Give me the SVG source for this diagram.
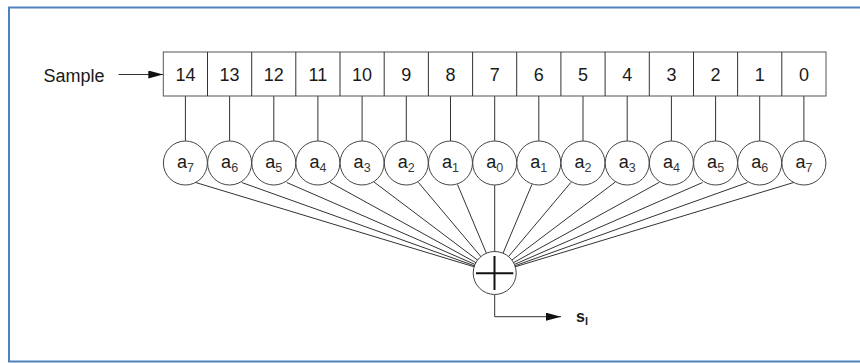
<svg xmlns="http://www.w3.org/2000/svg" width="860" height="363" viewBox="0 0 860 363">
<style>
.t{font-family:"Liberation Sans",Arial,sans-serif;fill:#1a1a1a}
.num{font-size:18px;text-anchor:middle}
.co{font-size:18px;text-anchor:middle}
.sub{font-size:12.5px;fill:#3a3a3a}
.box{fill:#fff;stroke:#555;stroke-width:1}
.cir{fill:#fff;stroke:#444;stroke-width:1}
.ln{stroke:#333;stroke-width:1;fill:none}
</style>
<defs>
<marker id="ah" markerWidth="15" markerHeight="8" refX="15" refY="4" orient="auto" markerUnits="userSpaceOnUse">
<path d="M0,0 L15,4 L0,8 Z" fill="#111"/>
</marker>
</defs>
<rect x="9" y="7.5" width="870" height="354" fill="#fff" stroke="#4f81bd" stroke-width="2"/>

<g id="connectors" class="ln">
<line x1="118.5" y1="74.5" x2="163.3" y2="74.5" marker-end="url(#ah)"/>
<line x1="185.4" y1="96" x2="185.4" y2="141"/>
<line x1="229.6" y1="96" x2="229.6" y2="141"/>
<line x1="273.8" y1="96" x2="273.8" y2="141"/>
<line x1="317.9" y1="96" x2="317.9" y2="141"/>
<line x1="362.1" y1="96" x2="362.1" y2="141"/>
<line x1="406.3" y1="96" x2="406.3" y2="141"/>
<line x1="450.5" y1="96" x2="450.5" y2="141"/>
<line x1="494.7" y1="96" x2="494.7" y2="141"/>
<line x1="538.8" y1="96" x2="538.8" y2="141"/>
<line x1="583.0" y1="96" x2="583.0" y2="141"/>
<line x1="627.2" y1="96" x2="627.2" y2="141"/>
<line x1="671.4" y1="96" x2="671.4" y2="141"/>
<line x1="715.6" y1="96" x2="715.6" y2="141"/>
<line x1="759.7" y1="96" x2="759.7" y2="141"/>
<line x1="803.9" y1="96" x2="803.9" y2="141"/>
<line x1="195" y1="182.3" x2="494.7" y2="273"/>
<line x1="241.7" y1="182.5" x2="494.7" y2="273"/>
<line x1="286.7" y1="182.5" x2="494.7" y2="273"/>
<line x1="330" y1="182.3" x2="494.7" y2="273"/>
<line x1="374" y1="182" x2="494.7" y2="273"/>
<line x1="418.3" y1="182.3" x2="494.7" y2="273"/>
<line x1="457.5" y1="184.5" x2="494.7" y2="273"/>
<line x1="494.7" y1="185" x2="494.7" y2="273"/>
<line x1="531.9" y1="184.5" x2="494.7" y2="273"/>
<line x1="571" y1="182.3" x2="494.7" y2="273"/>
<line x1="615.3" y1="182" x2="494.7" y2="273"/>
<line x1="659.3" y1="182.3" x2="494.7" y2="273"/>
<line x1="702.6" y1="182.5" x2="494.7" y2="273"/>
<line x1="747.6" y1="182.5" x2="494.7" y2="273"/>
<line x1="794.3" y1="182.3" x2="494.7" y2="273"/>
<polyline points="494.7,294.5 494.7,316.7 561,316.7" marker-end="url(#ah)"/>
</g>

<g id="sample-label"><text class="t" x="43.5" y="81.5" font-size="18">Sample</text></g>

<g id="register">
<rect class="box" x="163.3" y="52" width="662.7" height="44"/>
<g class="ln" stroke="#555">
<line x1="207.5" y1="52" x2="207.5" y2="96"/>
<line x1="251.7" y1="52" x2="251.7" y2="96"/>
<line x1="295.8" y1="52" x2="295.8" y2="96"/>
<line x1="340.0" y1="52" x2="340.0" y2="96"/>
<line x1="384.2" y1="52" x2="384.2" y2="96"/>
<line x1="428.4" y1="52" x2="428.4" y2="96"/>
<line x1="472.6" y1="52" x2="472.6" y2="96"/>
<line x1="516.7" y1="52" x2="516.7" y2="96"/>
<line x1="560.9" y1="52" x2="560.9" y2="96"/>
<line x1="605.1" y1="52" x2="605.1" y2="96"/>
<line x1="649.3" y1="52" x2="649.3" y2="96"/>
<line x1="693.5" y1="52" x2="693.5" y2="96"/>
<line x1="737.6" y1="52" x2="737.6" y2="96"/>
<line x1="781.8" y1="52" x2="781.8" y2="96"/>
</g>
<g class="t num">
<text x="185.4" y="80.5">14</text>
<text x="229.6" y="80.5">13</text>
<text x="273.8" y="80.5">12</text>
<text x="317.9" y="80.5">11</text>
<text x="362.1" y="80.5">10</text>
<text x="406.3" y="80.5">9</text>
<text x="450.5" y="80.5">8</text>
<text x="494.7" y="80.5">7</text>
<text x="538.8" y="80.5">6</text>
<text x="583.0" y="80.5">5</text>
<text x="627.2" y="80.5">4</text>
<text x="671.4" y="80.5">3</text>
<text x="715.6" y="80.5">2</text>
<text x="759.7" y="80.5">1</text>
<text x="803.9" y="80.5">0</text>
</g>
</g>

<g id="c0"><circle class="cir" cx="185.4" cy="163" r="22"/><text class="t co" x="185.4" y="168.3">a<tspan class="sub" dy="3.3">7</tspan></text></g>
<g id="c1"><circle class="cir" cx="229.6" cy="163" r="22"/><text class="t co" x="229.6" y="168.3">a<tspan class="sub" dy="3.3">6</tspan></text></g>
<g id="c2"><circle class="cir" cx="273.8" cy="163" r="22"/><text class="t co" x="273.8" y="168.3">a<tspan class="sub" dy="3.3">5</tspan></text></g>
<g id="c3"><circle class="cir" cx="317.9" cy="163" r="22"/><text class="t co" x="317.9" y="168.3">a<tspan class="sub" dy="3.3">4</tspan></text></g>
<g id="c4"><circle class="cir" cx="362.1" cy="163" r="22"/><text class="t co" x="362.1" y="168.3">a<tspan class="sub" dy="3.3">3</tspan></text></g>
<g id="c5"><circle class="cir" cx="406.3" cy="163" r="22"/><text class="t co" x="406.3" y="168.3">a<tspan class="sub" dy="3.3">2</tspan></text></g>
<g id="c6"><circle class="cir" cx="450.5" cy="163" r="22"/><text class="t co" x="450.5" y="168.3">a<tspan class="sub" dy="3.3">1</tspan></text></g>
<g id="c7"><circle class="cir" cx="494.7" cy="163" r="22"/><text class="t co" x="494.7" y="168.3">a<tspan class="sub" dy="3.3">0</tspan></text></g>
<g id="c8"><circle class="cir" cx="538.8" cy="163" r="22"/><text class="t co" x="538.8" y="168.3">a<tspan class="sub" dy="3.3">1</tspan></text></g>
<g id="c9"><circle class="cir" cx="583.0" cy="163" r="22"/><text class="t co" x="583.0" y="168.3">a<tspan class="sub" dy="3.3">2</tspan></text></g>
<g id="c10"><circle class="cir" cx="627.2" cy="163" r="22"/><text class="t co" x="627.2" y="168.3">a<tspan class="sub" dy="3.3">3</tspan></text></g>
<g id="c11"><circle class="cir" cx="671.4" cy="163" r="22"/><text class="t co" x="671.4" y="168.3">a<tspan class="sub" dy="3.3">4</tspan></text></g>
<g id="c12"><circle class="cir" cx="715.6" cy="163" r="22"/><text class="t co" x="715.6" y="168.3">a<tspan class="sub" dy="3.3">5</tspan></text></g>
<g id="c13"><circle class="cir" cx="759.7" cy="163" r="22"/><text class="t co" x="759.7" y="168.3">a<tspan class="sub" dy="3.3">6</tspan></text></g>
<g id="c14"><circle class="cir" cx="803.9" cy="163" r="22"/><text class="t co" x="803.9" y="168.3">a<tspan class="sub" dy="3.3">7</tspan></text></g>

<g id="sum">
<circle class="cir" cx="494.7" cy="273" r="21.5"/>
<line x1="476" y1="273.3" x2="513.3" y2="273.3" stroke="#111" stroke-width="2"/>
<line x1="494.5" y1="256" x2="494.5" y2="290" stroke="#111" stroke-width="2"/>
</g>

<g id="output-label"><text class="t" x="576" y="321.7" font-size="16" font-weight="bold" fill="#111">s<tspan font-size="11" dy="3.3">l</tspan></text></g>
</svg>
